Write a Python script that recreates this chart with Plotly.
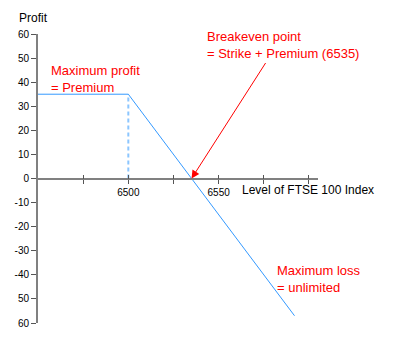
import plotly.graph_objects as go

# Data
index_level = [6450, 6500, 6592]
profit = [35, 35, -57]
strike = 6500
premium = 35
breakeven = 6535

y_tickvals = [60, 50, 40, 30, 20, 10, 0, -10, -20, -30, -40, -50, -60]
y_ticktext = ["60", "50", "40", "30", "20", "10", "0", "-10", "-20", "-30", "-40", "50", "60"]
x_tickvals = [6475, 6500, 6525, 6550, 6575, 6600]
x_ticktext = ["", "6500", "", "6550", "", ""]

FONT = "Liberation Sans, Arial, sans-serif"
AX = "#808080"

fig = go.Figure()
fig.add_trace(go.Scatter(x=[strike, strike], y=[0, premium], mode="lines",
                         line=dict(color="#8cc6ff", width=2, dash="4px,3px"),
                         hoverinfo="skip", showlegend=False))
fig.add_trace(go.Scatter(x=index_level, y=profit, mode="lines",
                         line=dict(color="#3399ff", width=1),
                         hoverinfo="skip", showlegend=False))
# invisible trace to bind xaxis2
fig.add_trace(go.Scatter(x=[6450], y=[0], xaxis="x2", mode="markers",
                         marker=dict(opacity=0), hoverinfo="skip", showlegend=False))

fig.update_layout(
    width=395, height=359,
    margin=dict(l=38, r=77, t=34, b=36, autoexpand=False),
    plot_bgcolor="white", paper_bgcolor="white",
    font=dict(family=FONT, size=11, color="black"),
    xaxis=dict(range=[6450, 6605], anchor="free", position=0.5, automargin=False,
               showgrid=False, zeroline=False, showline=True, linecolor=AX, linewidth=2,
               tickvals=x_tickvals, ticktext=x_ticktext, ticks="outside", ticklen=4,
               tickcolor="#555555", tickwidth=1, tickfont=dict(size=10, family=FONT)),
    xaxis2=dict(range=[6450, 6605], overlaying="x", anchor="free", position=0.5, side="top",
                showgrid=False, zeroline=False, showline=False, automargin=False,
                tickvals=x_tickvals, ticks="outside", ticklen=4, tickcolor="#555555",
                tickwidth=1, showticklabels=False),
    yaxis=dict(range=[-60, 60], showgrid=False, zeroline=False, showline=True, automargin=False,
               linecolor=AX, linewidth=2, tickvals=y_tickvals, ticktext=y_ticktext,
               ticks="outside", ticklen=5, tickcolor="#555555", tickwidth=1,
               tickfont=dict(size=10, family=FONT)),
    showlegend=False,
)

annots = [
    dict(text="Profit", x=17, y=9, font=dict(size=12, color="black")),
    dict(text="Level of FTSE 100 Index", x=240, y=181, font=dict(size=12, color="black")),
    dict(text="Maximum profit<br>= Premium", x=49, y=61, font=dict(size=13, color="#ff0000")),
    dict(text="Breakeven point<br>= Strike + Premium (6535)", x=205, y=27, font=dict(size=13, color="#ff0000")),
    dict(text="Maximum loss<br>= unlimited", x=275, y=261, font=dict(size=13, color="#ff0000")),
]
for a in annots:
    fig.add_annotation(text=a["text"], xref="paper", yref="paper",
                       x=(a["x"] - 38) / 280, y=1 - (a["y"] - 34) / 289,
                       xanchor="left", yanchor="top", align="left", showarrow=False,
                       font=dict(family=FONT, **a["font"]))

fig.add_annotation(x=breakeven, y=0, xref="x", yref="y", ax=75, ay=-117,
                   text="", showarrow=True, standoff=0,
                   arrowhead=2, arrowsize=1.6, arrowwidth=1, arrowcolor="#ff0000")

fig.write_html("out.html", config={"displayModeBar": False},
               post_script="document.body.style.margin='0';document.body.style.overflow='hidden';")
